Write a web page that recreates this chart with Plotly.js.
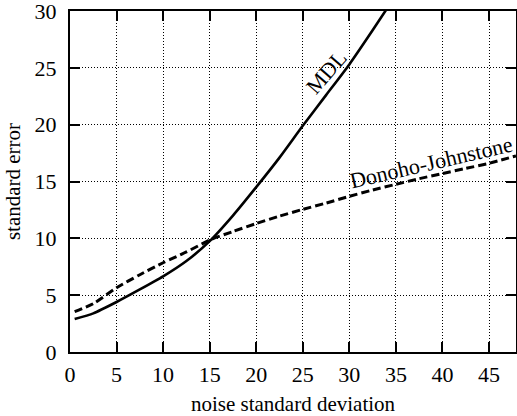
<!DOCTYPE html>
<html>
<head>
<meta charset="utf-8">
<script src="https://cdn.plot.ly/plotly-3.0.1.min.js"></script>
<style>
html,body{margin:0;padding:0;background:#fff;}
#chart{width:517px;height:416px;}
</style>
</head>
<body>
<div id="chart"></div>
<script>
// noise standard deviation (x) and standard error (y)
var sigmaMDL = [0.5, 2.5, 5, 7.5, 10, 12.5, 15, 17.5, 20, 22.5, 25, 27.5, 30, 32.5, 35];
var errMDL   = [2.9, 3.4, 4.4, 5.5, 6.65, 8.0, 9.75, 12.0, 14.5, 17.1, 19.9, 22.6, 25.3, 28.3, 31.4];
var sigmaDJ  = [0.5, 2.5, 5, 7.5, 10, 12.5, 15, 17.5, 20, 22.5, 25, 27.5, 30, 32.5, 35, 37.5, 40, 42.5, 45, 47.9];
var errDJ    = [3.55, 4.25, 5.65, 6.8, 7.85, 8.8, 9.85, 10.6, 11.3, 11.95, 12.55, 13.1, 13.7, 14.25, 14.75, 15.25, 15.7, 16.15, 16.6, 17.25];
var xTicks = [0, 5, 10, 15, 20, 25, 30, 35, 40, 45];
var yTicks = [0, 5, 10, 15, 20, 25, 30];
var labelMDL = "MDL";
var labelDJ = "Donoho-Johnstone";

var font = "Liberation Serif, Times New Roman, serif";

var traces = [
  {x: sigmaMDL, y: errMDL, mode: "lines", line: {color: "#000", width: 2.6, shape: "spline", smoothing: 0.6}, hoverinfo: "none"},
  {x: sigmaDJ, y: errDJ, mode: "lines", line: {color: "#000", width: 3, dash: "8px,4px", shape: "spline", smoothing: 0.6}, hoverinfo: "none"}
];

var axisCommon = {
  showline: true, linecolor: "#000", linewidth: 2, mirror: "ticks",
  ticks: "inside", ticklen: 10, tickwidth: 2, tickcolor: "#000",
  showgrid: true, gridcolor: "#000", gridwidth: 1, griddash: "1px,2px",
  zeroline: false, automargin: false, ticklabeloverflow: "allow",
  tickfont: {family: font, size: 22, color: "#000"}
};

var layout = {
  width: 517, height: 416,
  margin: {l: 70, r: 1, t: 11, b: 64},
  paper_bgcolor: "#fff", plot_bgcolor: "#fff",
  showlegend: false,
  font: {family: font, size: 21, color: "#000"},
  xaxis: Object.assign({}, axisCommon, {
    range: [0, 47.9], tickvals: xTicks, ticktext: xTicks.map(String),
    ticklabelstandoff: 2,
    title: {text: "noise standard deviation", font: {family: font, size: 21, color: "#000"}, standoff: 13}
  }),
  yaxis: Object.assign({}, axisCommon, {
    range: [0, 30], tickvals: yTicks, ticktext: yTicks.map(String),
    ticklabelstandoff: 7,
    title: {text: "standard error", font: {family: font, size: 21, color: "#000"}, standoff: 8}
  }),
  annotations: [
    {x: 27.5, y: 24.6, xref: "x", yref: "y", text: labelMDL, showarrow: false, textangle: -49,
     font: {family: font, size: 22, color: "#000"}},
    {x: 38.8, y: 16.7, xref: "x", yref: "y", text: labelDJ, showarrow: false, textangle: -13,
     font: {family: font, size: 22, color: "#000"}}
  ]
};

Plotly.newPlot("chart", traces, layout, {staticPlot: true, displayModeBar: false});
</script>
</body>
</html>
